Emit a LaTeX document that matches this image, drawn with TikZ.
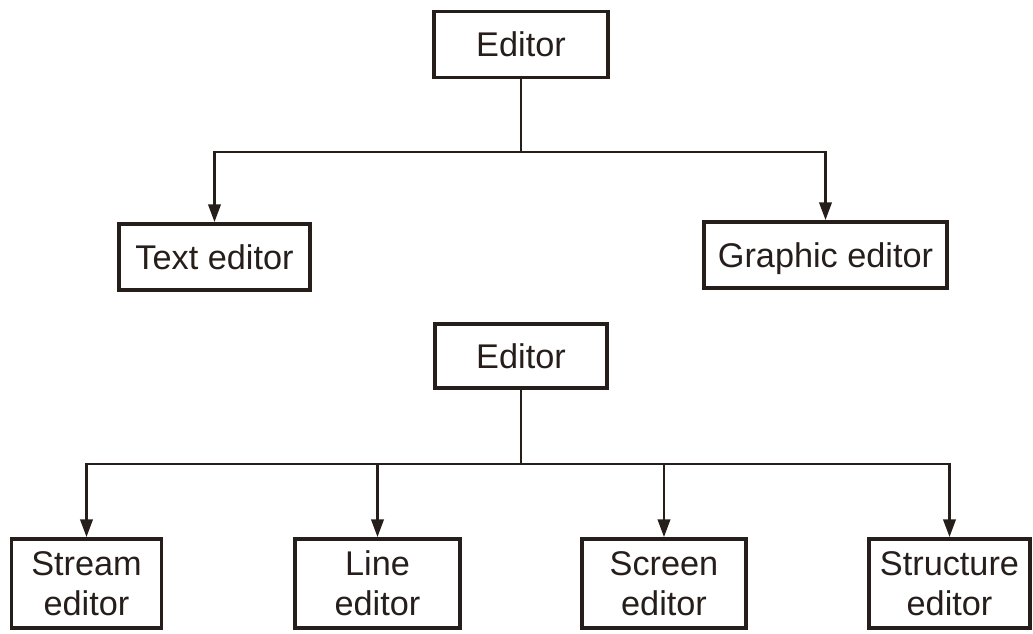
\documentclass[tikz,border=0pt]{standalone}
\usepackage{fontspec}
\setmainfont{Liberation Sans}
\usetikzlibrary{arrows.meta, positioning}
\definecolor{inkdark}{RGB}{38, 30, 26}

\begin{document}
\begin{tikzpicture}[
  box/.style={draw=inkdark, line width=2.2pt, fill=white, text=inkdark,
    font=\fontsize{19.5}{23}\selectfont, inner sep=2pt, align=center},
  onebox/.style={box, text height=14pt, text depth=0pt},
  wire/.style={draw=inkdark, line width=1.4pt},
  link/.style={wire, -{Triangle[length=10pt, width=7pt]}}
]

  \useasboundingbox (0,0) rectangle (20.66,12.66);

  % 上图：编辑器分为两类
  \node[onebox, minimum width=3.48cm, minimum height=1.32cm] (ed1) at (10.42,11.77) {Editor};
  \node[onebox, minimum width=3.82cm, minimum height=1.32cm] (txt) at (4.29,7.52) {Text editor};
  \node[onebox, minimum width=4.86cm, minimum height=1.32cm] (gfx) at (16.51,7.56) {Graphic editor};

  \coordinate (bar1) at (10.42,9.62);
  \draw[wire] (ed1.south) -- (bar1);
  \draw[link] (bar1) -| (txt.north);
  \draw[link] (bar1) -| (gfx.north);

  % 下图：编辑器分为四类
  \node[onebox, minimum width=3.44cm, minimum height=1.28cm] (ed2) at (10.42,5.54) {Editor};
  \node[box, minimum width=3.00cm, minimum height=1.78cm] (stm) at (1.73,0.99) {Stream\\editor};
  \node[box, minimum width=3.30cm, minimum height=1.78cm] (lin) at (7.55,0.99) {Line\\editor};
  \node[box, minimum width=3.28cm, minimum height=1.78cm] (scr) at (13.28,0.99) {Screen\\editor};
  \node[box, minimum width=3.22cm, minimum height=1.78cm] (stc) at (18.99,0.99) {Structure\\editor};

  \coordinate (bar2) at (10.42,3.38);
  \draw[wire] (ed2.south) -- (bar2);
  \foreach \n in {stm, lin, scr, stc}
    \draw[link] (bar2) -| (\n.north);

\end{tikzpicture}
\end{document}
